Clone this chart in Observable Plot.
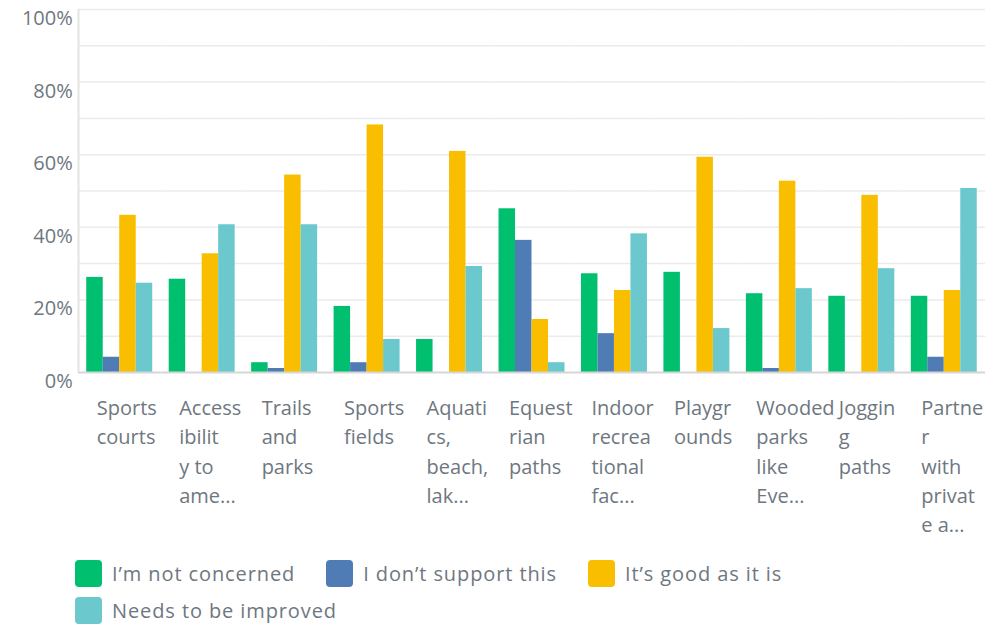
<!DOCTYPE html>
<html><head><meta charset="utf-8">
<script src="https://cdn.jsdelivr.net/npm/d3@7"></script>
<script src="https://cdn.jsdelivr.net/npm/@observablehq/plot@0.6"></script>
<style>
body{margin:0;background:#fff;font-family:"Open Sans",sans-serif;}
#legend{display:flex;flex-wrap:wrap;width:780px;margin-left:75px;margin-top:10px;row-gap:10px;}
.item{display:flex;align-items:center;margin-right:31px;color:#6e7780;font-size:20px;letter-spacing:0.9px;height:27px;white-space:nowrap}
.sw{width:27px;height:27px;border-radius:4px;margin-right:10px;flex:none}
</style></head><body>
<div id="chart"></div><div id="legend"></div>
<script>
const categories = ["Sports courts","Accessibility to amenities","Trails and parks","Sports fields","Aquatics, beach, lake","Equestrian paths","Indoor recreational facilities","Playgrounds","Wooded parks like Everett","Jogging paths","Partner with private agencies"];
const tickLabels = ["Sports\ncourts","Access\nibilit\ny to\name...","Trails\nand\nparks","Sports\nfields","Aquati\ncs,\nbeach,\nlak...","Equest\nrian\npaths","Indoor\nrecrea\ntional\nfac...","Playgr\nounds","Wooded\nparks\nlike\nEve...","Joggin\ng\npaths","Partne\nr\nwith\nprivat\ne a..."];
const series = ["I’m not concerned","I don’t support this","It’s good as it is","Needs to be improved"];
const colors = ["#00bf6f","#507cb6","#f9be00","#6bc8cd"];
const notConcerned = [26.2, 25.7, 2.7, 18.2, 9.1, 45.1, 27.2, 27.6, 21.7, 21.0, 21.0];
const dontSupport  = [4.2, 0, 1.1, 2.7, 0, 36.4, 10.7, 0, 1.1, 0, 4.2];
const goodAsIs     = [43.3, 32.7, 54.4, 68.2, 60.9, 14.6, 22.6, 59.3, 52.7, 48.8, 22.6];
const needsImproved= [24.6, 40.7, 40.7, 9.1, 29.2, 2.7, 38.2, 12.1, 23.1, 28.6, 50.7];
const yTicks = [0, 20, 40, 60, 80, 100];
const gridTicks = [10, 20, 30, 40, 50, 60, 70, 80, 90, 100];

const seriesValues = [notConcerned, dontSupport, goodAsIs, needsImproved];
const rows = [];
categories.forEach((c, i) => series.forEach((s, j) => rows.push({category: c, series: s, value: seriesValues[j][i]})));

const half = 8.25;
const chart = Plot.plot({
  width: 989, height: 550,
  marginTop: 9, marginLeft: 78, marginRight: 4, marginBottom: 178,
  style: {fontFamily: "Open Sans", fontSize: "20px", color: "#6e7780", background: "#fff", overflow: "visible"},
  fx: {domain: categories, paddingInner: 0.2, paddingOuter: 0.1, round: false, label: null},
  x: {domain: series, padding: 0, round: false, axis: null},
  y: {domain: [0, 100], axis: null},
  color: {domain: series, range: colors},
  marks: [
    Plot.gridY(gridTicks, {stroke: "#ebebeb", strokeOpacity: 1, strokeWidth: 1.5, insetLeft: -half, insetRight: -half}),
    Plot.barY(rows, {fx: "category", x: "series", y: "value", fill: "series"}),
    Plot.ruleY([0], {stroke: "#d6d6d6", strokeWidth: 2, insetLeft: -half, insetRight: -half}),
    Plot.ruleX(categories.slice(0, 1), {fx: d => d, x: () => series[0], dx: -2 * half, y1: 0, y2: 100, stroke: "#e3e3e3", strokeWidth: 2}),
    Plot.axisY({ticks: yTicks, tickFormat: d => d + "%", tickSize: 0, tickPadding: 14, dy: 9, fontSize: 20, fill: "#6e7780", label: null}),
    Plot.axisFx({anchor: "bottom", tickSize: 0, tickPadding: 22, textAnchor: "start", dx: -23, lineHeight: 1.46, fontSize: 20, fill: "#6e7780", letterSpacing: 0.8,
      tickFormat: d => tickLabels[categories.indexOf(d)], label: null})
  ]
});
document.getElementById("chart").appendChild(chart);

const legend = document.getElementById("legend");
series.forEach((s, j) => {
  const it = document.createElement("div");
  it.className = "item";
  it.innerHTML = `<span class="sw" style="background:${colors[j]}"></span><span>${s}</span>`;
  legend.appendChild(it);
});
</script>
</body></html>
